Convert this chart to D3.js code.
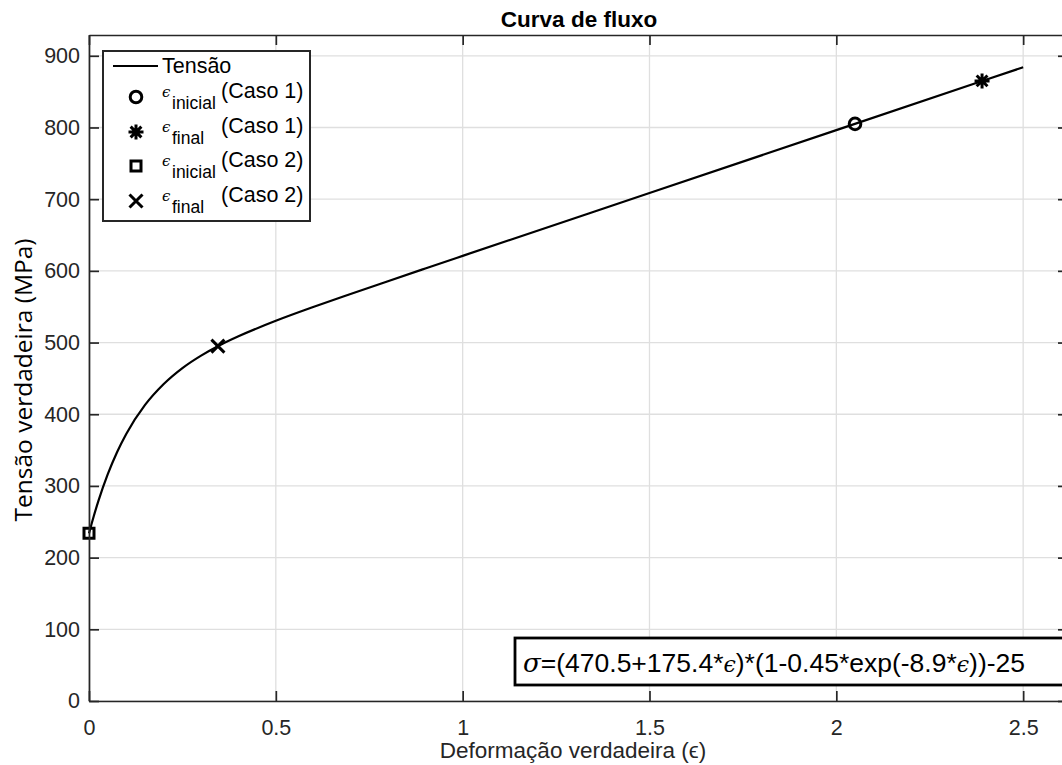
<!DOCTYPE html>
<html>
<head>
<meta charset="utf-8">
<script src="https://cdn.jsdelivr.net/npm/d3@7"></script>
<style>
  html, body { margin: 0; padding: 0; background: #fff; }
  svg { display: block; font-family: "Liberation Sans", Arial, sans-serif; }
</style>
</head>
<body>
<div id="chart"></div>
<script>
// ---- data ----
const strain = [0, 0.0125, 0.025, 0.05, 0.075, 0.1, 0.15, 0.2, 0.25, 0.3, 0.35, 0.4, 0.5, 0.6, 0.7, 0.8, 0.9, 1.0, 1.5, 2.0, 2.5];
const stress = [233.8, 257.4, 278.8, 316.0, 347.0, 372.9, 413.0, 442.2, 464.4, 481.8, 496.3, 508.7, 530.3, 549.5, 567.7, 585.6, 603.3, 620.9, 708.6, 796.3, 884.0];

const markerNames = ["inicial", "final", "inicial", "final"];
const markerCases = ["(Caso 1)", "(Caso 1)", "(Caso 2)", "(Caso 2)"];
const markerStrain = [2.05, 2.39, 0, 0.345];
const markerStress = [805, 865, 234, 495];
const markerShapes = ["circle", "asterisk", "square", "cross"];

const xTicks = [0, 0.5, 1, 1.5, 2, 2.5];
const yTicks = [0, 100, 200, 300, 400, 500, 600, 700, 800, 900];

const titleText = "Curva de fluxo";
const xLabel = "Deformação verdadeira (ϵ)";
const yLabel = "Tensão verdadeira (MPa)";
const lineLabel = "Tensão";

// ---- layout ----
const W = 1062, H = 765;
const plotL = 89, plotR = 1068, plotT = 35, plotB = 701;
const axisColor = "#262626";
const gridColor = "#dfdfdf";
const tickLen = 10;

const x = d3.scaleLinear().domain([0, 2.62]).range([plotL, plotR]);
const y = d3.scaleLinear().domain([0, 929]).range([plotB, plotT]);

const svg = d3.select("#chart").append("svg")
  .attr("width", W).attr("height", H);

svg.append("rect").attr("width", W).attr("height", H).attr("fill", "#fff");

// grid
const grid = svg.append("g");
grid.selectAll(".gx").data(xTicks).join("line")
  .attr("x1", d => x(d)).attr("x2", d => x(d))
  .attr("y1", plotT).attr("y2", plotB)
  .attr("stroke", gridColor).attr("stroke-width", 1.3);
grid.selectAll(".gy").data(yTicks).join("line")
  .attr("y1", d => y(d)).attr("y2", d => y(d))
  .attr("x1", plotL).attr("x2", plotR)
  .attr("stroke", gridColor).attr("stroke-width", 1.3);

// curve
const line = d3.line()
  .x((d, i) => x(strain[i]))
  .y(d => y(d))
  .curve(d3.curveMonotoneX);

svg.append("path")
  .datum(stress)
  .attr("fill", "none")
  .attr("stroke", "#000")
  .attr("stroke-width", 2.2)
  .attr("d", line);

// marker drawing helper
function drawMarker(g, shape, cx, cy) {
  const s = 6.5;
  if (shape === "circle") {
    g.append("circle").attr("cx", cx).attr("cy", cy).attr("r", 5.8)
      .attr("fill", "none").attr("stroke", "#000").attr("stroke-width", 3);
  } else if (shape === "square") {
    g.append("rect").attr("x", cx - 5).attr("y", cy - 5)
      .attr("width", 10).attr("height", 10)
      .attr("fill", "none").attr("stroke", "#000").attr("stroke-width", 3);
  } else if (shape === "cross") {
    g.append("path")
      .attr("d", `M${cx - s},${cy - s}L${cx + s},${cy + s}M${cx - s},${cy + s}L${cx + s},${cy - s}`)
      .attr("stroke", "#000").attr("stroke-width", 3);
  } else if (shape === "asterisk") {
    const r = 7.5, d = r * 0.72;
    g.append("path")
      .attr("d", `M${cx - r},${cy}L${cx + r},${cy}M${cx},${cy - r}L${cx},${cy + r}` +
                 `M${cx - d},${cy - d}L${cx + d},${cy + d}M${cx - d},${cy + d}L${cx + d},${cy - d}`)
      .attr("stroke", "#000").attr("stroke-width", 3);
  }
}

const marks = svg.append("g");
markerShapes.forEach((shape, i) => {
  drawMarker(marks, shape, x(markerStrain[i]), y(markerStress[i]));
});

// axes box (MATLAB style: ticks inward on all four sides)
const ax = svg.append("g");
ax.append("g")
  .attr("transform", `translate(0,${plotB})`)
  .call(d3.axisBottom(x).tickValues(xTicks).tickSizeInner(-tickLen).tickSizeOuter(0)
    .tickPadding(19).tickFormat(d3.format("")));
ax.append("g")
  .attr("transform", `translate(0,${plotT})`)
  .call(d3.axisTop(x).tickValues(xTicks).tickSizeInner(-tickLen).tickSizeOuter(0).tickFormat(""));
ax.append("g")
  .attr("transform", `translate(${plotL},0)`)
  .call(d3.axisLeft(y).tickValues(yTicks).tickSizeInner(-tickLen).tickSizeOuter(0)
    .tickPadding(9).tickFormat(d3.format("")));
ax.append("g")
  .attr("transform", `translate(${plotR},0)`)
  .call(d3.axisRight(y).tickValues(yTicks).tickSizeInner(-tickLen).tickSizeOuter(0).tickFormat(""));

ax.selectAll(".domain").attr("stroke", axisColor).attr("stroke-width", 1.7);
ax.selectAll(".tick line").attr("stroke", axisColor).attr("stroke-width", 1.7);
ax.selectAll(".tick text")
  .attr("fill", axisColor)
  .attr("font-size", 21.5)
  .attr("font-family", "Liberation Sans, Arial, sans-serif");

// title
svg.append("text")
  .attr("x", 579).attr("y", 27)
  .attr("text-anchor", "middle")
  .attr("font-weight", "bold").attr("font-size", 22.5)
  .attr("fill", "#000")
  .text(titleText);

// x label
svg.append("text")
  .attr("x", 573).attr("y", 758)
  .attr("text-anchor", "middle")
  .attr("font-size", 22.5).attr("fill", axisColor)
  .text(xLabel);

// y label
svg.append("text")
  .attr("transform", "translate(32,380) rotate(-90)")
  .attr("text-anchor", "middle")
  .attr("font-family", "Open Sans, sans-serif")
  .attr("font-size", 24.5).attr("fill", "#000")
  .text(yLabel);

// legend
const lg = svg.append("g");
lg.append("rect")
  .attr("x", 103).attr("y", 51).attr("width", 207).attr("height", 170)
  .attr("fill", "#fff").attr("stroke", axisColor).attr("stroke-width", 2);

lg.append("line")
  .attr("x1", 113).attr("x2", 158).attr("y1", 66).attr("y2", 66)
  .attr("stroke", "#000").attr("stroke-width", 2.2);
lg.append("text")
  .attr("x", 162).attr("y", 73)
  .attr("font-size", 21.5).attr("fill", "#000")
  .text(lineLabel);

const rowY = [97, 132, 166, 201];
markerShapes.forEach((shape, i) => {
  const ry = rowY[i];
  drawMarker(lg, shape, 136, ry);
  const t = lg.append("text").attr("y", ry).attr("fill", "#000");
  t.append("tspan")
    .attr("x", 162)
    .attr("font-family", "DejaVu Serif, serif").attr("font-style", "italic")
    .attr("font-size", 15)
    .text("ϵ");
  t.append("tspan")
    .attr("x", 172).attr("dy", 12)
    .attr("font-size", 17.5)
    .text(markerNames[i]);
  lg.append("text")
    .attr("x", 221).attr("y", ry + 1)
    .attr("font-size", 21.5).attr("fill", "#000")
    .text(markerCases[i]);
});

// equation box
const eq = svg.append("g");
eq.append("rect")
  .attr("x", 515).attr("y", 638).attr("width", 560).attr("height", 47)
  .attr("fill", "#fff").attr("stroke", "#000").attr("stroke-width", 2.8);
const et = eq.append("text").attr("x", 523).attr("y", 672)
  .attr("font-size", 26.5).attr("fill", "#000");
const sym = (s, fs) => et.append("tspan").attr("font-family", "DejaVu Serif, serif")
  .attr("font-style", "italic").attr("font-size", fs).text(s);
const txt = s => et.append("tspan").attr("font-size", 26.5).text(s);
sym("σ", 26); txt("=(470.5+175.4*");
sym("ϵ", 22); txt(")*(1-0.45*exp(-8.9*");
sym("ϵ", 22); txt("))-25");
</script>
</body>
</html>
